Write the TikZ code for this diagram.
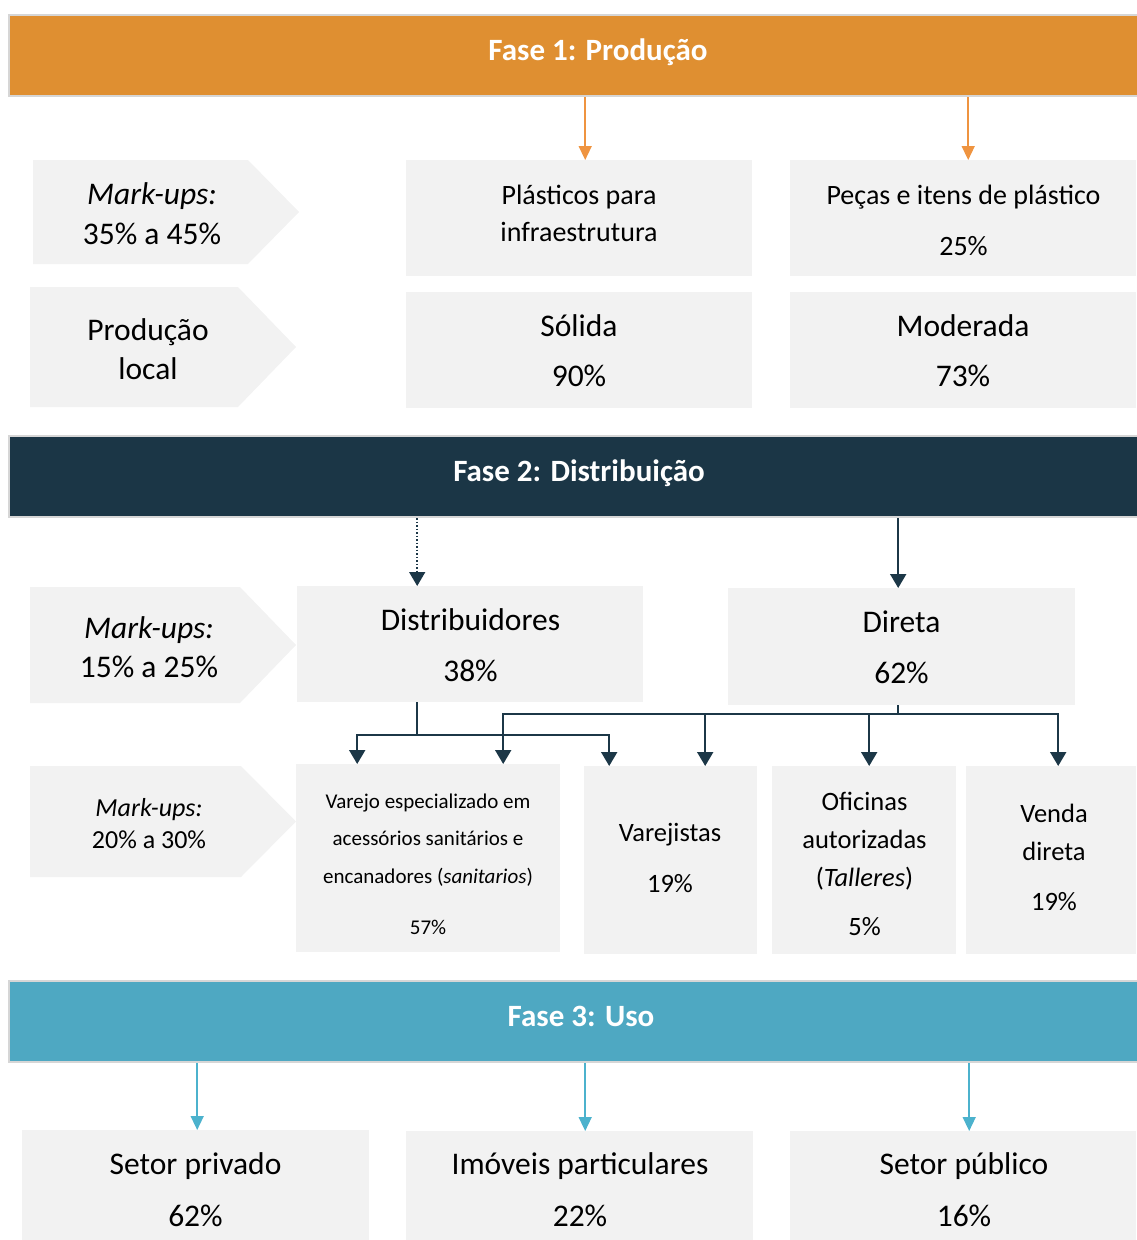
\documentclass[tikz,border=0pt]{standalone}
\usepackage{fontspec}
\setmainfont{Carlito}
\usetikzlibrary{arrows.meta,calc}
\definecolor{faseA}{HTML}{DF8F31}
\definecolor{faseB}{HTML}{1B3646}
\definecolor{faseC}{HTML}{4EA8C2}
\definecolor{boxg}{HTML}{F2F2F2}
\definecolor{arrO}{HTML}{EF9440}
\definecolor{arrB}{HTML}{4CB2CD}
\definecolor{arrD}{HTML}{1C3747}
\definecolor{barline}{HTML}{D6D6D6}
\newcommand\ph{\vphantom{Hg}}
\newcommand\bartxt[1]{\raisebox{-5pt}[0pt][0pt]{#1}}
\begin{document}
\begin{tikzpicture}[x=1pt,y=-1pt,
  fasebar/.style={draw=barline, line width=2pt, minimum width=1140pt, minimum height=81pt,
    inner sep=0pt, anchor=north west, text=white, font=\fontsize{31}{36}\selectfont\bfseries},
  gbox/.style={fill=boxg, draw=none, inner sep=0pt, anchor=north west},
  txt/.style={align=center, inner sep=0pt, text=black, yshift=-3pt},
  oarr/.style={draw=arrO, line width=1.5pt, -{Triangle[length=14pt,width=13pt]}},
  barr/.style={draw=arrB, line width=1.5pt, -{Triangle[length=14pt,width=13pt]}},
  darr/.style={draw=arrD, line width=2pt, -{Triangle[length=14pt,width=16pt]}},
  dline/.style={draw=arrD, line width=2pt},
  dotarr/.style={draw=arrD, line width=1.5pt, dotted, -{Triangle[length=14pt,width=16pt]}}
]
\useasboundingbox (0,0) rectangle (1136,1240);

% ---------- Phase bars
\node[fasebar, fill=faseA] (f1) at (8,14) {\bartxt{\hspace*{38pt}Fase 1: Produção}};
\node[fasebar, fill=faseB] (f2) at (8,435) {\bartxt{Fase 2: Distribuição}};
\node[fasebar, fill=faseC] (f3) at (8,980) {\bartxt{\hspace*{4pt}Fase 3: Uso}};

% ---------- Phase 1 row
\fill[boxg] (33,160) -- (248,160) -- (299,212) -- (248,264) -- (33,264) -- cycle;
\node[txt, font=\fontsize{31.5}{40}\selectfont] (mk1) at (152,213)
  {\ph\itshape Mark-ups:\\ 35\% a 45\%\ph};

\node[gbox, minimum width=346pt, minimum height=116pt] (pl) at (406,160) {};
\node[txt, font=\fontsize{28}{37}\selectfont] (plT) at (579,212.5)
  {\ph Plásticos para\\ infraestrutura\ph};
\node[gbox, minimum width=346pt, minimum height=116pt] (pc) at (790,160) {};
\node[txt, font=\fontsize{28}{51}\selectfont] (pcT) at (963.5,219.5)
  {\ph Peças e itens de plástico\\ 25\%\ph};

\fill[boxg] (30,287) -- (238,287) -- (296,347) -- (238,407) -- (30,407) -- cycle;
\node[txt, font=\fontsize{31.5}{39}\selectfont] (prl) at (148,348.5)
  {\ph Produção\\ local\ph};

\node[gbox, minimum width=346pt, minimum height=116pt] (so) at (406,292) {};
\node[txt, font=\fontsize{31.5}{50}\selectfont] (soT) at (579,350)
  {\ph Sólida\\ 90\%\ph};
\node[gbox, minimum width=346pt, minimum height=116pt] (mo) at (790,292) {};
\node[txt, font=\fontsize{31.5}{50}\selectfont] (moT) at (963,350)
  {\ph Moderada\\ 73\%\ph};

\coordinate (a1) at ([xshift=6pt]pl.north);
\coordinate (a2) at ([xshift=5pt]pc.north);
\draw[oarr] (a1 |- f1.south) -- (a1);
\draw[oarr] (a2 |- f1.south) -- (a2);

% ---------- Phase 2 row
\fill[boxg] (30,587) -- (240,587) -- (296,645) -- (240,703) -- (30,703) -- cycle;
\node[txt, font=\fontsize{31.5}{39}\selectfont] (mk2) at (149,646.5)
  {\ph\itshape Mark-ups:\\ 15\% a 25\%\ph};

\node[gbox, minimum width=346pt, minimum height=116pt] (di) at (297,586) {};
\node[txt, font=\fontsize{31.5}{51}\selectfont] (diT) at (470.5,644.5)
  {\ph Distribuidores\\ 38\%\ph};
\node[gbox, minimum width=347pt, minimum height=117pt] (dr) at (728,588) {};
\node[txt, font=\fontsize{31.5}{51}\selectfont] (drT) at (901.5,646.5)
  {\ph Direta\\ 62\%\ph};

\coordinate (b1) at ([xshift=-53pt]di.north);
\draw[dotarr] (b1 |- f2.south) -- (b1);
\coordinate (b2) at ([xshift=-3.5pt]dr.north);
\draw[darr] (b2 |- f2.south) -- (b2);

% ---------- Channel row
\fill[boxg] (30,766) -- (241,766) -- (296,821.5) -- (241,877) -- (30,877) -- cycle;
\node[txt, font=\fontsize{26}{32}\selectfont] (mk3) at (149,823)
  {\ph\itshape Mark-ups:\\ 20\% a 30\%\ph};

\node[gbox, minimum width=264pt, minimum height=188pt] (v1) at (296,764) {};
\node[txt, font=\fontsize{21}{37.5}\selectfont] (v1T) at (428,863)
  {\ph Varejo especializado em\\ acessórios sanitários e\\ encanadores (\textit{sanitarios})\\[13.5pt] 57\%\ph};
\node[gbox, minimum width=173pt, minimum height=188pt] (v2) at (584,766) {};
\node[txt, font=\fontsize{26.5}{51}\selectfont] (v2T) at (670,857.5)
  {\ph Varejistas\\ 19\%\ph};
\node[gbox, minimum width=184pt, minimum height=188pt] (v3) at (772,766) {};
\node[txt, font=\fontsize{26.5}{38}\selectfont] (v3T) at (864.5,863.5)
  {\ph Oficinas\\ autorizadas\\ (\textit{Talleres})\\[11pt] 5\%\ph};
\node[gbox, minimum width=170pt, minimum height=188pt] (v4) at (966,766) {};
\node[txt, font=\fontsize{26.5}{38}\selectfont] (v4T) at (1054,857)
  {\ph Venda\\ direta\\[12pt] 19\%\ph};

% distributor branches
\coordinate (j1) at (b1 |- 0,735);
\draw[dline] (b1 |- di.south) -- (j1);
\coordinate (c1) at ([xshift=-71pt]v1.north);
\coordinate (c3) at ([xshift=-61.5pt]v2.north);
\draw[darr] (j1) -| (c1);
\draw[darr] (j1) -| (c3);
% direct branches
\coordinate (j2) at (b2 |- 0,714);
\draw[dline] (b2 |- dr.south) -- (j2);
\coordinate (c2) at ([xshift=75pt]v1.north);
\coordinate (c4) at ([xshift=34.5pt]v2.north);
\coordinate (c5) at ([xshift=5pt]v3.north);
\coordinate (c6) at ([xshift=7pt]v4.north);
\draw[darr] (j2) -| (c2);
\draw[darr] (j2) -| (c4);
\draw[darr] (j2) -| (c5);
\draw[darr] (j2) -| (c6);

% ---------- Phase 3 row
\node[gbox, minimum width=347pt, minimum height=120pt] (u1) at (22,1130) {};
\node[txt, font=\fontsize{31.5}{52}\selectfont] (u1T) at (195.5,1189)
  {\ph Setor privado\\ 62\%\ph};
\node[gbox, minimum width=347pt, minimum height=120pt] (u2) at (406,1131) {};
\node[txt, font=\fontsize{31.5}{52}\selectfont] (u2T) at (580,1189.5)
  {\ph Imóveis particulares\\ 22\%\ph};
\node[gbox, minimum width=346pt, minimum height=120pt] (u3) at (790,1131) {};
\node[txt, font=\fontsize{31.5}{52}\selectfont] (u3T) at (964,1189.5)
  {\ph Setor público\\ 16\%\ph};

\coordinate (e1) at ([xshift=1.5pt]u1.north);
\coordinate (e2) at ([xshift=5.5pt]u2.north);
\coordinate (e3) at ([xshift=6pt]u3.north);
\draw[barr] (e1 |- f3.south) -- (e1);
\draw[barr] (e2 |- f3.south) -- (e2);
\draw[barr] (e3 |- f3.south) -- (e3);
\end{tikzpicture}
\end{document}
